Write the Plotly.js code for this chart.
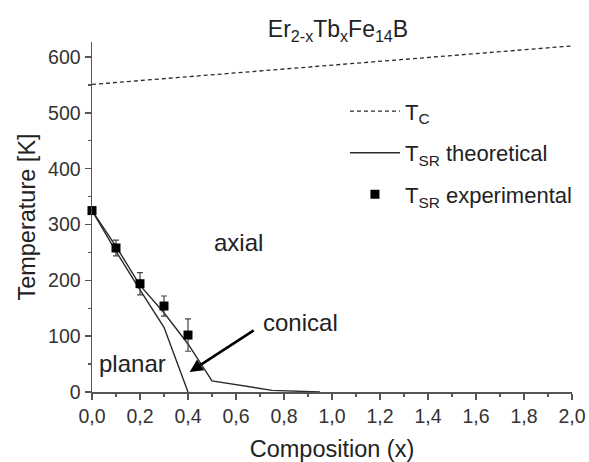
<!DOCTYPE html>
<html>
<head>
<meta charset="utf-8">
<script src="https://cdn.plot.ly/plotly-3.0.1.min.js"></script>
<style>html,body{margin:0;padding:0;background:#fff;}#chart{width:589px;height:462px;}</style>
</head>
<body>
<div id="chart"></div>
<script>
// Curie temperature (dashed line)
const tcX = [0, 2.0];
const tcY = [551, 620];
// Theoretical spin-reorientation boundaries
const theoUpperX = [0, 0.1, 0.2, 0.3, 0.4, 0.5, 0.75, 0.95];
const theoUpperY = [325, 261, 191, 142, 86, 20, 3, 0];
const theoLowerX = [0, 0.1, 0.2, 0.3, 0.4];
const theoLowerY = [325, 252, 183, 116, 0];
// Experimental spin-reorientation points
const expX = [0, 0.1, 0.2, 0.3, 0.4];
const expY = [325, 258, 194, 154, 102];
const expErr = [5, 14, 20, 18, 29];
// Text
const titleText = 'Er<sub>2-x</sub>Tb<sub>x</sub>Fe<sub>14</sub>B';
const xTitle = 'Composition (x)';
const yTitle = 'Temperature [K]';
const legendNames = ['T<sub>C</sub>', 'T<sub>SR</sub> theoretical', 'T<sub>SR</sub> experimental'];
const regionLabels = ['axial', 'conical', 'planar'];

const FONT = '"Liberation Sans", Arial, sans-serif';
const dark = '#2a2a2a';
const axisCol = '#555';

const traces = [
  {x: tcX, y: tcY, mode: 'lines', name: legendNames[0], legendgroup: 'a',
   line: {color: dark, width: 1.3, dash: '4px,3px'}},
  {x: theoUpperX, y: theoUpperY, mode: 'lines', name: legendNames[1], legendgroup: 'b',
   line: {color: dark, width: 1.4}},
  {x: theoLowerX, y: theoLowerY, mode: 'lines', name: legendNames[1], legendgroup: 'b', showlegend: false,
   line: {color: dark, width: 1.4}},
  {x: expX, y: expY, mode: 'markers', name: legendNames[2], legendgroup: 'c',
   marker: {symbol: 'square', size: 9, color: '#000'},
   error_y: {type: 'data', array: expErr, visible: true, color: '#444', thickness: 1.2, width: 3},
   cliponaxis: false}
];

const layout = {
  width: 589, height: 462,
  margin: {l: 91.7, r: 17.3, t: 41.8, b: 70.3},
  paper_bgcolor: '#fff', plot_bgcolor: '#fff',
  separators: ',.',
  font: {family: FONT, color: '#333', size: 18},
  showlegend: true,
  title: {text: titleText, x: 0.5125, xref: 'paper', y: 1 - 29/462, yref: 'container', yanchor: 'middle',
          font: {family: FONT, size: 23, color: '#222'}},
  xaxis: {
    range: [0, 2.0], dtick: 0.2, tick0: 0, tickformat: '.1f',
    showline: true, linecolor: axisCol, linewidth: 1.5,
    ticks: 'outside', ticklen: 6, tickwidth: 1.5, tickcolor: axisCol,
    minor: {dtick: 0.1, ticks: 'outside', ticklen: 3, tickwidth: 1.2, tickcolor: axisCol},
    showgrid: false, zeroline: false, automargin: false,
    tickfont: {family: FONT, size: 19.5, color: '#333'},
    title: {text: xTitle, font: {family: FONT, size: 23.5, color: '#222'}}
  },
  yaxis: {
    range: [0, 627], dtick: 100, tick0: 0,
    showline: true, linecolor: axisCol, linewidth: 1.5,
    ticks: 'outside', ticklen: 6, tickwidth: 1.5, tickcolor: axisCol,
    minor: {dtick: 50, ticks: 'outside', ticklen: 3, tickwidth: 1.2, tickcolor: axisCol},
    showgrid: false, zeroline: false, automargin: false,
    tickfont: {family: FONT, size: 19.5, color: '#333'},
    title: {text: yTitle, font: {family: FONT, size: 23.5, color: '#222'}}
  },
  legend: {
    x: 0.527, xanchor: 'left', y: 0.862, yanchor: 'top',
    bgcolor: 'rgba(0,0,0,0)', borderwidth: 0,
    font: {family: FONT, size: 22, color: '#222'},
    tracegroupgap: 10, itemwidth: 50
  },
  annotations: [
    {x: 0.61, y: 268, xref: 'x', yref: 'y', text: regionLabels[0], showarrow: false,
     font: {family: FONT, size: 24, color: '#222'}},
    {x: 0.868, y: 125, xref: 'x', yref: 'y', text: regionLabels[1], showarrow: false,
     font: {family: FONT, size: 24, color: '#222'}},
    {x: 0.168, y: 51, xref: 'x', yref: 'y', text: regionLabels[2], showarrow: false,
     font: {family: FONT, size: 24, color: '#222'}},
    {x: 0.407, y: 36, xref: 'x', yref: 'y', ax: 0.68, ay: 112, axref: 'x', ayref: 'y',
     text: '', showarrow: true, arrowhead: 2, arrowsize: 1, arrowwidth: 2.6, arrowcolor: '#000'}
  ]
};

Plotly.newPlot('chart', traces, layout, {displayModeBar: false, staticPlot: true});
</script>
</body>
</html>
